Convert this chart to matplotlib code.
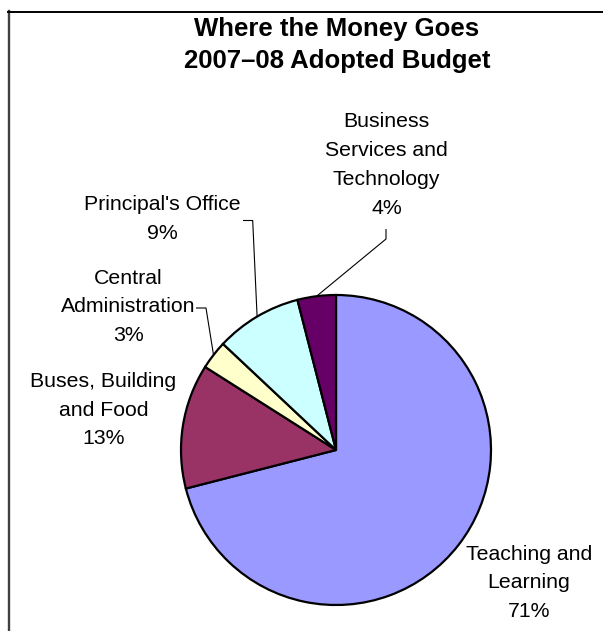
import numpy as np
import matplotlib
matplotlib.use("Agg")
import matplotlib.pyplot as plt
from matplotlib.lines import Line2D

plt.rcParams["font.family"] = ["Liberation Sans", "DejaVu Sans"]

# Budget shares (percent of the adopted budget)
categories = [
    "Teaching and\nLearning",
    "Buses, Building\nand Food",
    "Central\nAdministration",
    "Principal's Office",
    "Business\nServices and\nTechnology",
]
shares = [71, 13, 3, 9, 4]
colors = ["#9999FF", "#993366", "#FFFFCC", "#CCFFFF", "#660066"]
title_lines = ["Where the Money Goes", "2007\u201308 Adopted Budget"]

# Layout (pixel coordinates, y measured from the top)
W, H = 603, 631
CX, CY, R = 336, 450, 155
label_pos = [(529, 583), (103.5, 410), (128, 307), (162, 219), (386.5, 165)]
# leader lines: label-side elbow points for the small slices
leaders = {
    2: [(196, 308), (206, 308)],
    3: [(243, 220.5), (252.7, 220.5)],
    4: [(386, 229), (386, 239)],
}

fig = plt.figure(figsize=(W / 100, H / 100), dpi=100)
fig.patch.set_facecolor("white")
ax = fig.add_axes([0, 0, 1, 1])

wedges, _ = ax.pie(
    shares, colors=colors, startangle=90, counterclock=False,
    center=(CX, H - CY), radius=R,
    wedgeprops=dict(edgecolor="black", linewidth=1.6),
)
ax.set_xlim(0, W)
ax.set_ylim(0, H)
ax.set_aspect("equal")
ax.axis("off")

# slice labels
total = float(sum(shares))
cum = np.cumsum(shares) - np.array(shares) / 2.0
for i, (cat, val) in enumerate(zip(categories, shares)):
    x, y = label_pos[i]
    ax.text(x, H - y, f"{cat}\n{val}%", ha="center", va="center",
            multialignment="center", fontsize=15.3, linespacing=1.65,
            color="black")
    if i in leaders:
        ang = np.deg2rad(90 - 360.0 * cum[i] / total)
        ex, ey = CX + R * np.cos(ang), (H - CY) + R * np.sin(ang)
        pts = leaders[i]
        xs = [p[0] for p in pts] + [ex]
        ys = [H - p[1] for p in pts] + [ey]
        ax.plot(xs, ys, color="black", linewidth=0.8, solid_capstyle="butt")

# title
fig.text(337 / W, 1 - 45 / H, "\n".join(title_lines), ha="center", va="center",
         multialignment="center", fontsize=18.5, fontweight="bold",
         linespacing=1.43, color="black")

# chart-area border (left and top edges)
fig.add_artist(Line2D([8.5 / W, 8.5 / W], [0, 1 - 11 / H],
                      transform=fig.transFigure, color="#404040", linewidth=1.7))
fig.add_artist(Line2D([8 / W, 1], [1 - 11.5 / H, 1 - 11.5 / H],
                      transform=fig.transFigure, color="black", linewidth=1.4))

fig.savefig("out.png", dpi=100, facecolor="white")
